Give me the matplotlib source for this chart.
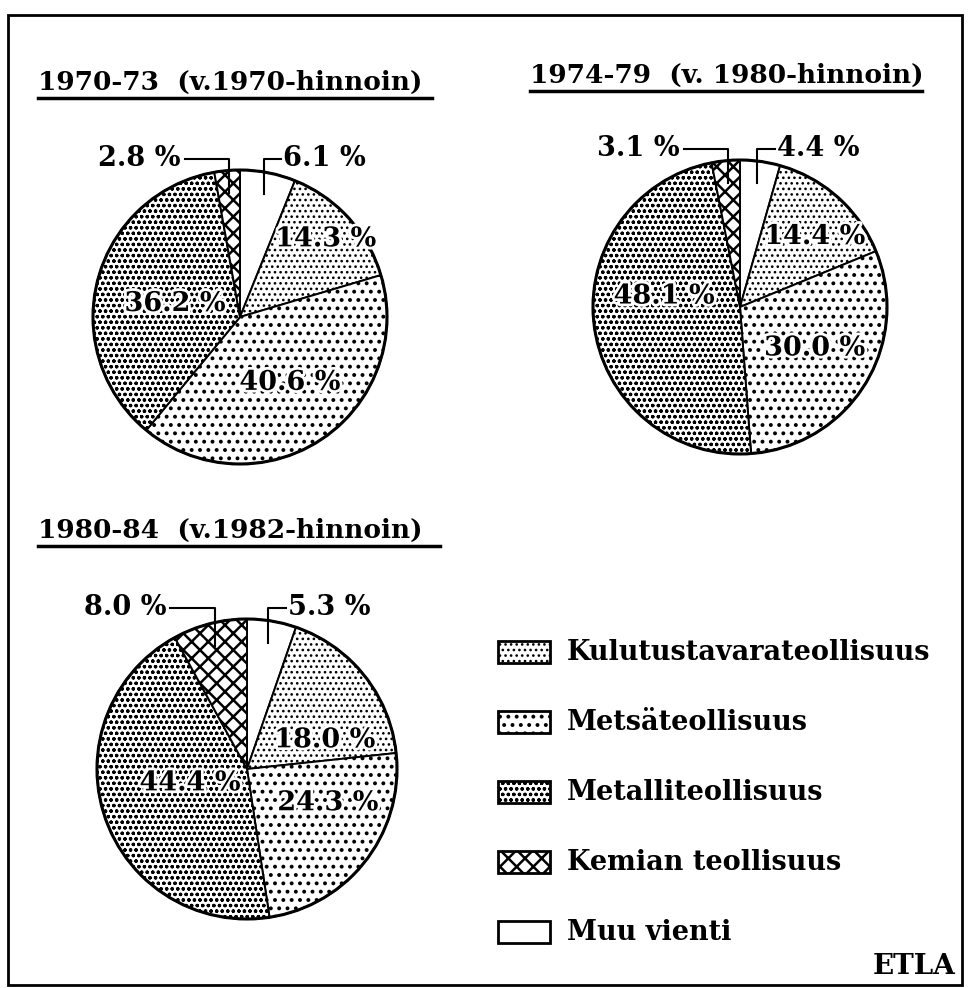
import numpy as np
import matplotlib
matplotlib.use("Agg")
import matplotlib.pyplot as plt
import matplotlib.patheffects as pe
from matplotlib.patches import Rectangle

# Data
categories = ["Muu vienti", "Kulutustavarateollisuus", "Metsäteollisuus",
              "Metalliteollisuus", "Kemian teollisuus"]
titles = ["1970-73  (v.1970-hinnoin)", "1974-79  (v. 1980-hinnoin)",
          "1980-84  (v.1982-hinnoin)"]
share_1970_73 = [6.1, 14.3, 40.6, 36.2, 2.8]
share_1974_79 = [4.4, 14.4, 30.0, 48.1, 3.1]
share_1980_84 = [5.3, 18.0, 24.3, 44.4, 8.0]
legend_order = [1, 2, 3, 4, 0]

# Styles (pie order clockwise from 12 o'clock)
hatches = ["", "...", "..", "ooo", "xx"]
hatch_lw = [1.0, 1.1, 1.6, 0.9, 1.8]

W, H = 968, 988
plt.rcParams['font.family'] = ['DejaVu Serif']
plt.rcParams['hatch.linewidth'] = 1.2

fig = plt.figure(figsize=(W / 100, H / 100), dpi=100)
ax = fig.add_axes([0, 0, 1, 1])

halo = [pe.withStroke(linewidth=4, foreground="white")]

def Y(yp):
    return H - yp

def fmt(v):
    return f"{v:.1f} %"

def set_hlw(p, lw):
    if hasattr(p, "set_hatch_linewidth"):
        p.set_hatch_linewidth(lw)

def draw_pie(values, cx, cy, R, title, tx, ty, tw, lab):
    wedges, _ = ax.pie(values, center=(cx, Y(cy)), radius=R, startangle=90,
                       counterclock=False,
                       wedgeprops=dict(edgecolor="black", linewidth=1.4, facecolor="white"))
    for w, h, lw in zip(wedges, hatches, hatch_lw):
        w.set_hatch(h)
        set_hlw(w, lw)
    ax.add_patch(plt.Circle((cx, Y(cy)), R, fill=False, lw=2.2, color="black"))
    total = sum(values)
    cum = np.cumsum([0] + list(values))
    n = len(values)
    for i, v in enumerate(values):
        mid = (cum[i] + v / 2) / total * 2 * np.pi
        if i == 0 or i == n - 1:
            sx = cx + 0.85 * R * np.sin(mid)
            sy = Y(cy) + 0.85 * R * np.cos(mid)
            ly = Y(cy) + 1.075 * R
            if i == 0:
                ex = sx + 0.12 * R
                ax.plot([sx, sx, ex], [sy, ly, ly], color="black", lw=1.5)
                ax.text(ex + 2, ly, fmt(v), ha="left", va="center",
                        fontsize=19.5, fontweight="bold")
            else:
                ex = sx - 0.3 * R
                ax.plot([sx, sx, ex], [sy, ly, ly], color="black", lw=1.5)
                ax.text(ex - 4, ly, fmt(v), ha="right", va="center",
                        fontsize=19.5, fontweight="bold")
        else:
            r, dang = lab[i - 1]
            a = mid + np.radians(dang)
            x = cx + r * R * np.sin(a)
            y = Y(cy) + r * R * np.cos(a)
            ax.text(x, y, fmt(v), ha="center", va="center",
                    fontsize=19.5, fontweight="bold", path_effects=halo)
    ax.text(tx, Y(ty), title, ha="left", va="baseline", fontsize=19, fontweight="bold")
    ax.plot([tx, tx + tw], [Y(ty + 8), Y(ty + 8)], color="black", lw=2.5)

draw_pie(share_1970_73, 240, 317, 147, titles[0], 38, 90, 394,
         [(0.79, 0), (0.56, -4), (0.45, -3)])
draw_pie(share_1974_79, 740, 307, 147, titles[1], 530, 83, 392,
         [(0.70, 5), (0.58, -3), (0.52, 16)])
draw_pie(share_1980_84, 247, 769, 150, titles[2], 38, 538, 402,
         [(0.555, 18), (0.585, -15), (0.39, 5)])

# Legend
for k, idx in enumerate(legend_order):
    yc = 652 + k * 70
    box = Rectangle((498, Y(yc + 11)), 52, 22, facecolor="white",
                    edgecolor="black", lw=2, hatch=hatches[idx])
    set_hlw(box, hatch_lw[idx])
    ax.add_patch(box)
    ax.text(567, Y(yc), categories[idx], ha="left", va="center",
            fontsize=19.5, fontweight="bold")

ax.text(956, Y(966), "ETLA", ha="right", va="center", fontsize=20, fontweight="bold")

# Frame
ax.add_patch(Rectangle((8, Y(985)), 954, 970, fill=False, lw=2, edgecolor="black"))

ax.set_xlim(0, W)
ax.set_ylim(0, H)
ax.set_aspect("equal")
ax.axis("off")

fig.savefig("out.png", dpi=100, facecolor="white")
